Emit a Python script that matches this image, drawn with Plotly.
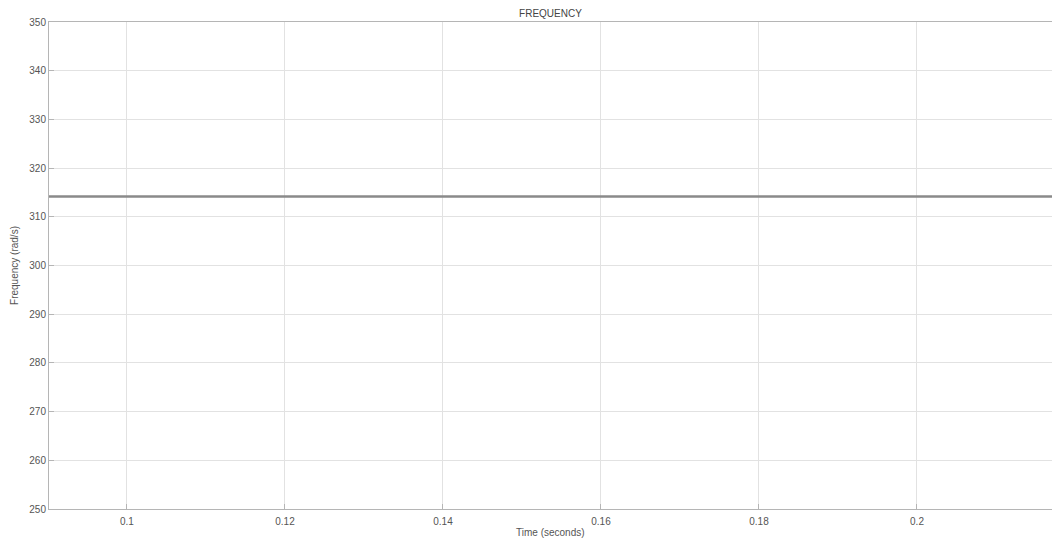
import plotly.graph_objects as go

time_s = [0.09, 0.11, 0.13, 0.15, 0.17, 0.19, 0.21, 0.22]
freq_rad_s = [314.16, 314.16, 314.16, 314.16, 314.16, 314.16, 314.16, 314.16]
x_ticks = [0.1, 0.12, 0.14, 0.16, 0.18, 0.2]
x_tick_labels = ["0.1", "0.12", "0.14", "0.16", "0.18", "0.2"]
y_ticks = [250, 260, 270, 280, 290, 300, 310, 320, 330, 340, 350]

fig = go.Figure()
fig.add_trace(go.Scatter(x=time_s, y=freq_rad_s, mode="lines",
                         line=dict(color="#8a8a8a", width=2.5), showlegend=False))

W, H = 1044, 530
axis_font = dict(family="Liberation Sans, Arial, sans-serif", size=10, color="#555555")
fig.update_layout(
    width=W, height=H,
    margin=dict(l=41, r=0, t=14, b=29),
    paper_bgcolor="white", plot_bgcolor="white",
    title=dict(text="FREQUENCY", x=0.5, xanchor="center", xref="paper",
               y=1 - 5/H, yanchor="middle",
               font=dict(family="Liberation Sans, Arial, sans-serif", size=10, color="#444444")),
    xaxis=dict(range=[0.09013, 0.21709], tickvals=x_ticks, ticktext=x_tick_labels,
               showgrid=True, gridcolor="#e2e2e2", gridwidth=1,
               showline=True, linecolor="#b5b5b5", linewidth=1, mirror=True,
               ticks="inside", ticklen=5, tickcolor="#b5b5b5", automargin=False,
               zeroline=False, tickfont=axis_font, ticklabelstandoff=3),
    yaxis=dict(range=[250, 350], tickvals=y_ticks,
               showgrid=True, gridcolor="#e2e2e2", gridwidth=1,
               showline=True, linecolor="#b5b5b5", linewidth=1, mirror=True,
               ticks="inside", ticklen=5, tickcolor="#b5b5b5", automargin=False,
               zeroline=False, tickfont=axis_font,
               title=dict(text="Frequency (rad/s)", font=axis_font, standoff=8)),
    annotations=[dict(text="Time (seconds)", xref="paper", yref="paper", x=0.5, y=0,
                      xanchor="center", yanchor="top", yshift=-16, showarrow=False,
                      font=axis_font)],
)
fig.write_html("out.html")
